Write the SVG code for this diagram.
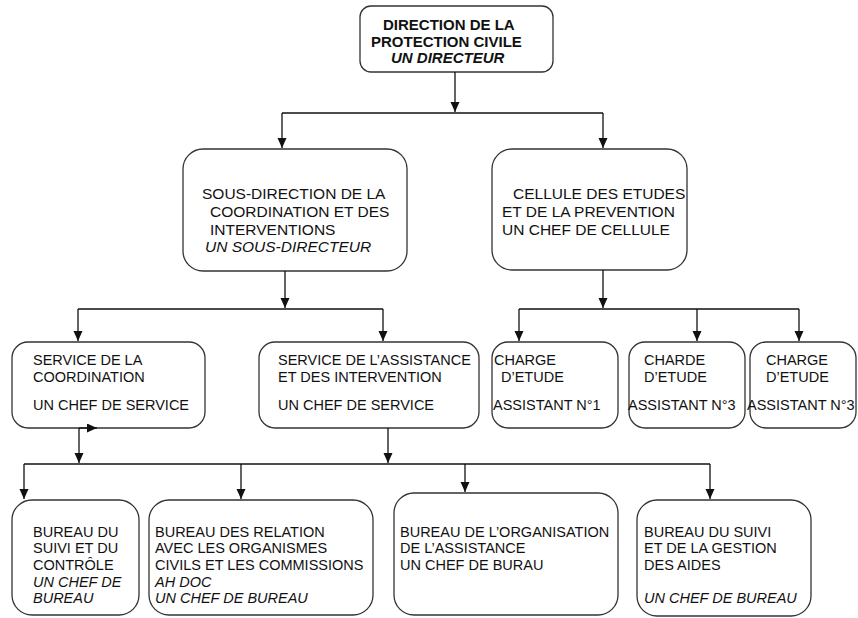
<svg xmlns="http://www.w3.org/2000/svg" width="858" height="618" viewBox="0 0 858 618">
<style>
  .box { fill: #ffffff; stroke: #333333; stroke-width: 1.3; }
  .t { font-family: "Liberation Sans", Arial, sans-serif; font-size: 14.5px; fill: #111111; }
  .m { font-size: 15.5px; }
  .b { font-weight: bold; font-size: 15px; }
  .i { font-style: italic; }
  .c { fill: none; stroke: #111111; stroke-width: 1.3; }
</style>
<defs>
  <marker id="ah" markerUnits="userSpaceOnUse" markerWidth="10" markerHeight="10" refX="10" refY="4.5" orient="auto">
    <path d="M0,0 L10,4.5 L0,9 z" fill="#111111"/>
  </marker>
</defs>
<rect width="858" height="618" fill="#ffffff"/>

<g id="direction">
  <rect class="box" x="360" y="6" width="193" height="66" rx="11"/>
  <text class="t b"><tspan x="383" y="30">DIRECTION DE LA</tspan><tspan x="371" y="47">PROTECTION CIVILE</tspan><tspan class="i" x="391" y="63">UN DIRECTEUR</tspan></text>
</g>

<g id="sous-direction">
  <rect class="box" x="183" y="149" width="224" height="122" rx="20"/>
  <text class="t m"><tspan x="202" y="199">SOUS-DIRECTION DE LA</tspan><tspan x="210" y="217">COORDINATION ET DES</tspan><tspan x="210" y="235">INTERVENTIONS</tspan><tspan class="i" x="205" y="252">UN SOUS-DIRECTEUR</tspan></text>
</g>

<g id="cellule">
  <rect class="box" x="492" y="149" width="195" height="121" rx="20"/>
  <text class="t m"><tspan x="513" y="199">CELLULE DES ETUDES</tspan><tspan x="502" y="217">ET DE LA PREVENTION</tspan><tspan x="502" y="235">UN CHEF DE CELLULE</tspan></text>
</g>

<g id="service-coordination">
  <rect class="box" x="12" y="342" width="193" height="86" rx="16"/>
  <text class="t"><tspan x="33" y="365">SERVICE DE LA</tspan><tspan x="33" y="382">COORDINATION</tspan><tspan x="33" y="410">UN CHEF DE SERVICE</tspan></text>
</g>

<g id="service-assistance">
  <rect class="box" x="259" y="342" width="220" height="86" rx="16"/>
  <text class="t"><tspan x="278" y="365">SERVICE DE L’ASSISTANCE</tspan><tspan x="278" y="382">ET DES INTERVENTION</tspan><tspan x="278" y="410">UN CHEF DE SERVICE</tspan></text>
</g>

<g id="charge-1">
  <rect class="box" x="492" y="342" width="126" height="86" rx="16"/>
  <text class="t"><tspan x="494" y="365">CHARGE</tspan><tspan x="501" y="382">D’ETUDE</tspan><tspan x="493" y="410">ASSISTANT N°1</tspan></text>
</g>

<g id="charge-2">
  <rect class="box" x="629" y="342" width="116" height="86" rx="16"/>
  <text class="t"><tspan x="644" y="365">CHARDE</tspan><tspan x="644" y="382">D’ETUDE</tspan><tspan x="628" y="410">ASSISTANT N°3</tspan></text>
</g>

<g id="charge-3">
  <rect class="box" x="750" y="342" width="106" height="86" rx="16"/>
  <text class="t"><tspan x="766" y="365">CHARGE</tspan><tspan x="766" y="382">D’ETUDE</tspan><tspan x="747" y="410">ASSISTANT N°3</tspan></text>
</g>

<g id="bureau-suivi-controle">
  <rect class="box" x="12" y="500" width="127" height="115" rx="20"/>
  <text class="t"><tspan x="33" y="537">BUREAU DU</tspan><tspan x="33" y="553">SUIVI ET DU</tspan><tspan x="33" y="570">CONTRÔLE</tspan><tspan class="i" x="33" y="587">UN CHEF DE</tspan><tspan class="i" x="33" y="603">BUREAU</tspan></text>
</g>

<g id="bureau-relation">
  <rect class="box" x="149" y="500" width="224" height="115" rx="20"/>
  <text class="t"><tspan x="155" y="537">BUREAU DES RELATION</tspan><tspan x="155" y="553">AVEC LES ORGANISMES</tspan><tspan x="155" y="570">CIVILS ET LES COMMISSIONS</tspan><tspan class="i" x="155" y="587">AH DOC</tspan><tspan class="i" x="155" y="603">UN CHEF DE BUREAU</tspan></text>
</g>

<g id="bureau-organisation">
  <rect class="box" x="394" y="493" width="224" height="122" rx="20"/>
  <text class="t"><tspan x="400" y="537">BUREAU DE L’ORGANISATION</tspan><tspan x="400" y="553">DE L’ASSISTANCE</tspan><tspan x="400" y="570">UN CHEF DE BURAU</tspan></text>
</g>

<g id="bureau-suivi-gestion">
  <rect class="box" x="637" y="500" width="174" height="116" rx="20"/>
  <text class="t"><tspan x="644" y="537">BUREAU DU SUIVI</tspan><tspan x="644" y="553">ET DE LA GESTION</tspan><tspan x="644" y="570">DES AIDES</tspan><tspan class="i" x="644" y="603">UN CHEF DE BUREAU</tspan></text>
</g>

<g id="connectors">
  <path class="c" d="M455,72 V112" marker-end="url(#ah)"/>
  <path class="c" d="M282,113 H603"/>
  <path class="c" d="M282,113 V148" marker-end="url(#ah)"/>
  <path class="c" d="M603,113 V148" marker-end="url(#ah)"/>

  <path class="c" d="M285,271 V308" marker-end="url(#ah)"/>
  <path class="c" d="M78,309 H383"/>
  <path class="c" d="M78,309 V341" marker-end="url(#ah)"/>
  <path class="c" d="M383,309 V341" marker-end="url(#ah)"/>

  <path class="c" d="M603,270 V308" marker-end="url(#ah)"/>
  <path class="c" d="M519,309 H799"/>
  <path class="c" d="M519,309 V341" marker-end="url(#ah)"/>
  <path class="c" d="M697,309 V341" marker-end="url(#ah)"/>
  <path class="c" d="M799,309 V341" marker-end="url(#ah)"/>

  <path class="c" d="M79,428 V463" marker-end="url(#ah)"/>
  <path class="c" d="M388,428 V463" marker-end="url(#ah)"/>
  <path class="c" d="M24,464 H710"/>
  <path class="c" d="M24,464 V499" marker-end="url(#ah)"/>
  <path class="c" d="M241,464 V499" marker-end="url(#ah)"/>
  <path class="c" d="M465,464 V492" marker-end="url(#ah)"/>
  <path class="c" d="M710,464 V499" marker-end="url(#ah)"/>
  <path class="c" d="M79,428 H97" marker-end="url(#ah)"/>
</g>
</svg>
